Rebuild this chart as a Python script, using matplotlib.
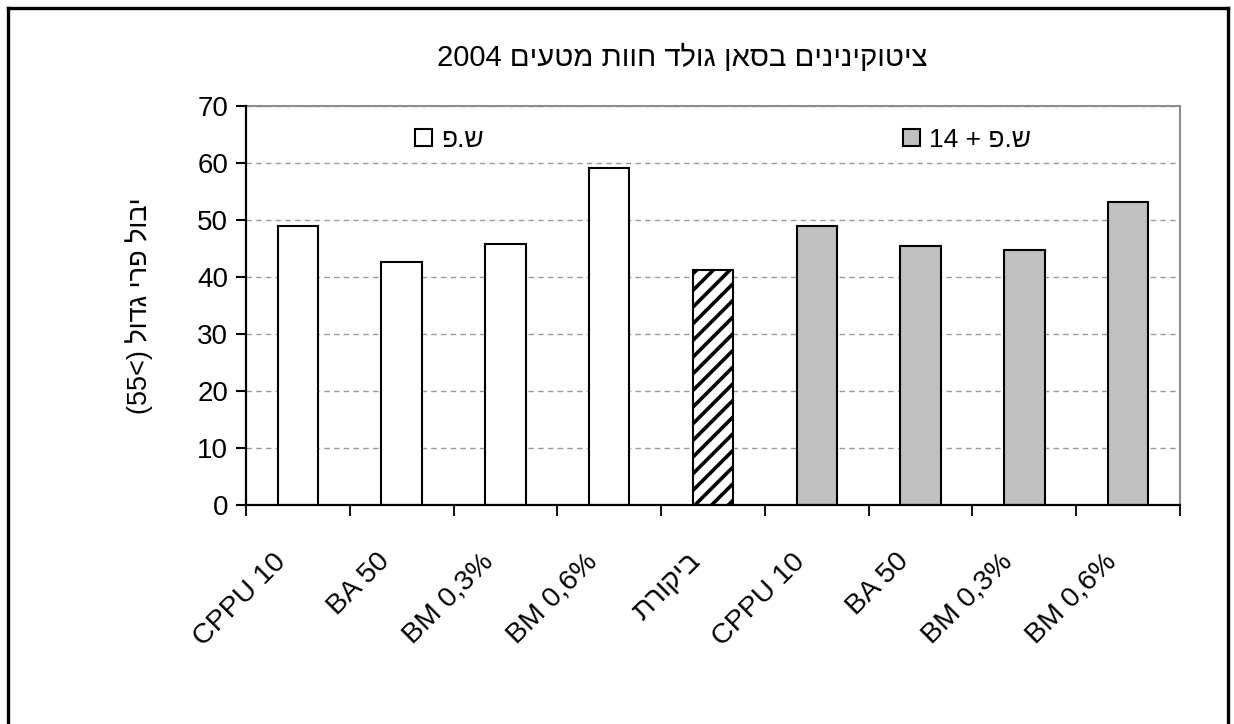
#!/usr/bin/env python3
import numpy as np
import matplotlib
matplotlib.use("Agg")
import matplotlib.pyplot as plt
import matplotlib.transforms as mtransforms
from matplotlib.lines import Line2D


def heb(s):
    # matplotlib has no bidi support, so hebrew is given in visual order
    return s[::-1]


categories = ["CPPU 10", "BA 50", "BM 0,3%", "BM 0,6%", heb("ביקורת"),
              "CPPU 10", "BA 50", "BM 0,3%", "BM 0,6%"]
values = [49.0, 42.7, 45.8, 59.2, 41.2, 49.0, 45.5, 44.8, 53.2]
groups = ["plain", "plain", "plain", "plain", "control",
          "plus", "plus", "plus", "plus"]
title = "2004 " + heb("ציטוקינינים בסאן גולד חוות מטעים")
ylabel = "(55<) " + heb("יבול פרי גדול")
leg_plain = heb("ש.פ")
leg_plus = "14 + " + heb("ש.פ")

plt.rcParams['font.family'] = ['Liberation Sans', 'DejaVu Sans']
plt.rcParams['hatch.linewidth'] = 2.6


def plot_chart():
    fig = plt.figure(figsize=(12.34, 7.24), dpi=100)
    ax = fig.add_axes([0.1994, 0.3025, 0.7568, 0.5511])

    x = np.arange(len(values))
    colors = {"plain": "white", "control": "white", "plus": "#c0c0c0"}
    handles = {}
    for g in ["plain", "control", "plus"]:
        idx = [i for i in range(len(values)) if groups[i] == g]
        b = ax.bar(x[idx], [values[i] for i in idx], width=0.39,
                   color=colors[g], edgecolor="black", linewidth=1.5,
                   hatch="//" if g == "control" else None, zorder=3)
        handles[g] = b

    ax.set_xlim(-0.5, len(values) - 0.5)
    ax.set_ylim(0, 70)
    ax.set_yticks(np.arange(0, 71, 10))
    ax.tick_params(axis="y", labelsize=20, length=7, width=1.5, pad=6)

    ax.set_xticks(np.arange(-0.5, len(values), 1.0))
    ax.set_xticklabels([])
    ax.tick_params(axis="x", which="major", length=8, width=1.3)
    ax.set_xticks(x, minor=True)
    ax.set_xticklabels(categories, minor=True, rotation=45, ha="right",
                       va="center", rotation_mode="anchor", fontsize=20.5)
    ax.tick_params(axis="x", which="minor", length=0, pad=38)
    shift = mtransforms.ScaledTranslation(-16 / 100, 0, fig.dpi_scale_trans)
    for lab in ax.get_xticklabels(minor=True):
        lab.set_transform(lab.get_transform() + shift)

    ax.yaxis.grid(True, color="#9a9a9a", linestyle=(0, (4, 3)), linewidth=1.0,
                  zorder=0)
    ax.set_axisbelow(True)
    for s in ["left", "bottom"]:
        ax.spines[s].set_linewidth(1.6)
        ax.spines[s].set_zorder(4)
    for s in ["top", "right"]:
        ax.spines[s].set_color("#8c8c8c")
        ax.spines[s].set_linewidth(1.5)

    ax.set_ylabel(ylabel, fontsize=19.5)
    ax.yaxis.set_label_coords(-0.10, 0.5)

    l1 = ax.legend([handles["plain"]], [leg_plain], loc="center left",
                   bbox_to_anchor=(0.181, 0.915), frameon=False, fontsize=19,
                   handlelength=0.65, handleheight=0.65, handletextpad=0.35,
                   borderpad=0, borderaxespad=0)
    ax.add_artist(l1)
    ax.legend([handles["plus"]], [leg_plus], loc="center left",
              bbox_to_anchor=(0.703, 0.915), frameon=False, fontsize=19,
              handlelength=0.65, handleheight=0.65, handletextpad=0.35,
              borderpad=0, borderaxespad=0)

    fig.text(0.553, 0.92, title, ha="center", va="center", fontsize=21)

    # outer frame of the original picture (no bottom edge)
    for xs, ys in [([7.5, 7.5], [0, 716.5]), ([7.5, 1227.5], [716.5, 716.5]),
                   ([1227.5, 1227.5], [716.5, 0])]:
        fig.add_artist(Line2D([v / 1234 for v in xs], [v / 724 for v in ys],
                              color="black", linewidth=2.4,
                              transform=fig.transFigure))

    fig.savefig("out.png", dpi=100)
    return


if __name__ == '__main__':
    plot_chart()
    print("DONE")
